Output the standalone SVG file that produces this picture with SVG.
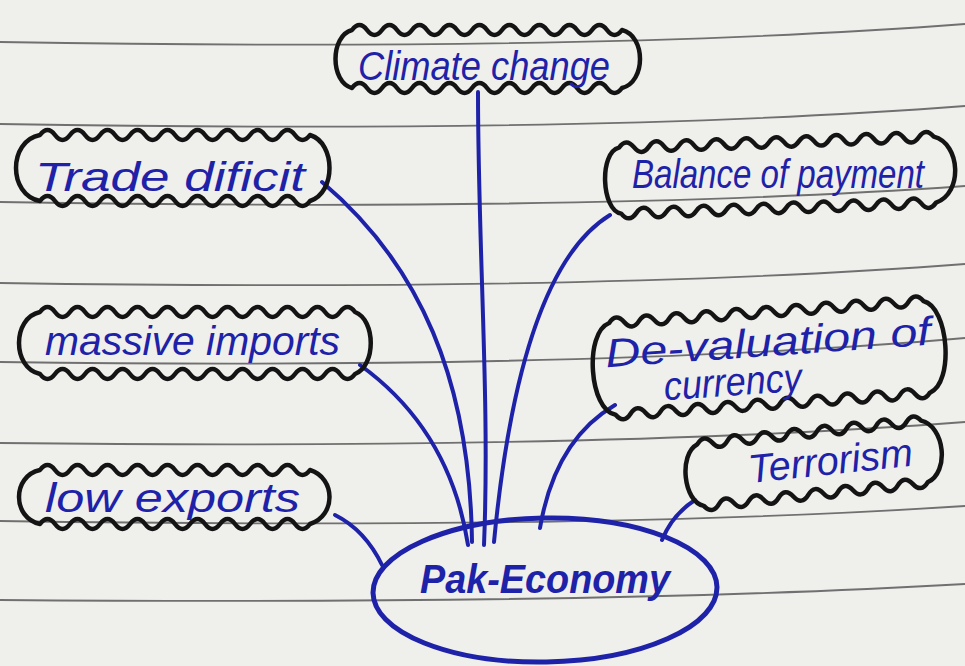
<svg xmlns="http://www.w3.org/2000/svg" width="965" height="666" viewBox="0 0 965 666">
<style>
.paper{fill:#efefec}
.rule{fill:none;stroke:#707070;stroke-width:1.8}
.box{fill:none;stroke:#141414;stroke-width:4.5;stroke-linejoin:round}
.ink{fill:none;stroke:#1e22a8;stroke-width:4;stroke-linecap:round}
.hw{font-family:"Liberation Sans","DejaVu Sans",sans-serif;fill:#1e22a8;font-size:40px;font-style:italic}
</style>
<rect class="paper" x="0" y="0" width="965" height="666"/>
<g id="rules">
<path class="rule" d="M0,42 Q600,52 965,24"/>
<path class="rule" d="M0,124 Q600,134 965,106"/>
<path class="rule" d="M0,202 Q600,212 965,186"/>
<path class="rule" d="M0,283 Q600,292 965,264"/>
<path class="rule" d="M0,362 Q600,370 965,338"/>
<path class="rule" d="M0,443 Q600,450 965,422"/>
<path class="rule" d="M0,521 Q600,530 965,506"/>
<path class="rule" d="M0,600 Q600,605 965,584"/>
</g>
<g id="connectors">
<path class="ink" d="M322,182 C420,265 470,380 472,542"/>
<path class="ink" d="M478,92 C478,250 490,400 484,545"/>
<path class="ink" d="M610,215 Q520,270 494,542"/>
<path class="ink" d="M360,365 Q450,430 468,545"/>
<path class="ink" d="M335,515 Q365,530 382,565"/>
<path class="ink" d="M615,405 Q555,440 540,528"/>
<path class="ink" d="M695,500 Q672,515 662,540"/>
</g>
<g id="node-climate">
<path class="box" d="M352,30 q7.5,-10 15,0 t15,0 t15,0 t15,0 t15,0 t15,0 t15,0 t15,0 t15,0 t15,0 t15,0 t15,0 t15,0 t15,0 t15,0 t15,0 t15,0 t15,0 C646,36 646,82 622,88 q-7.5,10 -15,0 t-15,0 t-15,0 t-15,0 t-15,0 t-15,0 t-15,0 t-15,0 t-15,0 t-15,0 t-15,0 t-15,0 t-15,0 t-15,0 t-15,0 t-15,0 t-15,0 t-15,0 C330,82 330,36 352,30 Z"/>
<text class="hw" x="358" y="80" textLength="252" lengthAdjust="spacingAndGlyphs">Climate change</text>
</g>
<g id="node-trade">
<path class="box" d="M40,135 q7.5,-10 15,0 t15,0 t15,0 t15,0 t15,0 t15,0 t15,0 t15,0 t15,0 t15,0 t15,0 t15,0 t15,0 t15,0 t15,0 t15,0 t15,0 t15,0 C336,143 336,193 310,201 q-7.5,10 -15,0 t-15,0 t-15,0 t-15,0 t-15,0 t-15,0 t-15,0 t-15,0 t-15,0 t-15,0 t-15,0 t-15,0 t-15,0 t-15,0 t-15,0 t-15,0 t-15,0 t-15,0 C8,195 8,141 40,135 Z"/>
<text class="hw" x="35" y="191" textLength="270" lengthAdjust="spacingAndGlyphs" font-size="42">Trade  dificit</text>
</g>
<g id="node-balance">
<path class="box" transform="rotate(-2 782 175)" d="M620,142 q7.5,-10 15,0 t15,0 t15,0 t15,0 t15,0 t15,0 t15,0 t15,0 t15,0 t15,0 t15,0 t15,0 t15,0 t15,0 t15,0 t15,0 t15,0 t15,0 t15,0 t15,0 t15,0 C962,150 962,200 935,208 q-7.5,10 -15,0 t-15,0 t-15,0 t-15,0 t-15,0 t-15,0 t-15,0 t-15,0 t-15,0 t-15,0 t-15,0 t-15,0 t-15,0 t-15,0 t-15,0 t-15,0 t-15,0 t-15,0 t-15,0 t-15,0 t-15,0 C600,204 600,146 620,142 Z"/>
<text class="hw" x="632" y="188" textLength="292" lengthAdjust="spacingAndGlyphs" font-size="33">Balance of payment</text>
</g>
<g id="node-imports">
<path class="box" d="M40,312 q7.5,-10 15,0 t15,0 t15,0 t15,0 t15,0 t15,0 t15,0 t15,0 t15,0 t15,0 t15,0 t15,0 t15,0 t15,0 t15,0 t15,0 t15,0 t15,0 t15,0 t15,0 t15,0 C376,320 376,366 355,374 q-7.5,10 -15,0 t-15,0 t-15,0 t-15,0 t-15,0 t-15,0 t-15,0 t-15,0 t-15,0 t-15,0 t-15,0 t-15,0 t-15,0 t-15,0 t-15,0 t-15,0 t-15,0 t-15,0 t-15,0 t-15,0 t-15,0 C12,368 12,318 40,312 Z"/>
<text class="hw" x="45" y="355" textLength="295" lengthAdjust="spacingAndGlyphs" font-size="38">massive  imports</text>
</g>
<g id="node-devaluation" transform="rotate(-4 768 358)">
<path class="box" d="M612,312 q7.5,-10 15,0 t15,0 t15,0 t15,0 t15,0 t15,0 t15,0 t15,0 t15,0 t15,0 t15,0 t15,0 t15,0 t15,0 t15,0 t15,0 t15,0 t15,0 t15,0 t15,0 t15,0 C952,320 952,396 927,404 q-7.5,10 -15,0 t-15,0 t-15,0 t-15,0 t-15,0 t-15,0 t-15,0 t-15,0 t-15,0 t-15,0 t-15,0 t-15,0 t-15,0 t-15,0 t-15,0 t-15,0 t-15,0 t-15,0 t-15,0 t-15,0 t-15,0 C586,398 586,320 612,312 Z"/>
<text class="hw" x="606" y="356" textLength="326" lengthAdjust="spacingAndGlyphs" font-size="44">De-valuation of</text>
<text class="hw" x="662" y="393" textLength="138" lengthAdjust="spacingAndGlyphs" font-size="38">currency</text>
</g>
<g id="node-terrorism" transform="rotate(-6 815 463)">
<path class="box" d="M700,432 q7.5,-10 15,0 t15,0 t15,0 t15,0 t15,0 t15,0 t15,0 t15,0 t15,0 t15,0 t15,0 t15,0 t15,0 t15,0 t15,0 C948,440 948,486 925,494 q-7.5,10 -15,0 t-15,0 t-15,0 t-15,0 t-15,0 t-15,0 t-15,0 t-15,0 t-15,0 t-15,0 t-15,0 t-15,0 t-15,0 t-15,0 t-15,0 C680,488 680,440 700,432 Z"/>
<text class="hw" x="748" y="476" textLength="165" lengthAdjust="spacingAndGlyphs">Terrorism</text>
</g>
<g id="node-exports">
<path class="box" d="M40,470 q7.5,-10 15,0 t15,0 t15,0 t15,0 t15,0 t15,0 t15,0 t15,0 t15,0 t15,0 t15,0 t15,0 t15,0 t15,0 t15,0 t15,0 t15,0 t15,0 C336,478 336,516 310,524 q-7.5,10 -15,0 t-15,0 t-15,0 t-15,0 t-15,0 t-15,0 t-15,0 t-15,0 t-15,0 t-15,0 t-15,0 t-15,0 t-15,0 t-15,0 t-15,0 t-15,0 t-15,0 t-15,0 C12,518 12,476 40,470 Z"/>
<text class="hw" x="45" y="512" textLength="255" lengthAdjust="spacingAndGlyphs">low  exports</text>
</g>
<g id="node-pak-economy">
<ellipse cx="545" cy="590" rx="172" ry="72" transform="rotate(-1 545 590)" fill="none" stroke="#1e22a8" stroke-width="5"/>
<text class="hw" x="420" y="593" textLength="250" lengthAdjust="spacingAndGlyphs" font-size="54" font-weight="bold">Pak-Economy</text>
</g>
</svg>
